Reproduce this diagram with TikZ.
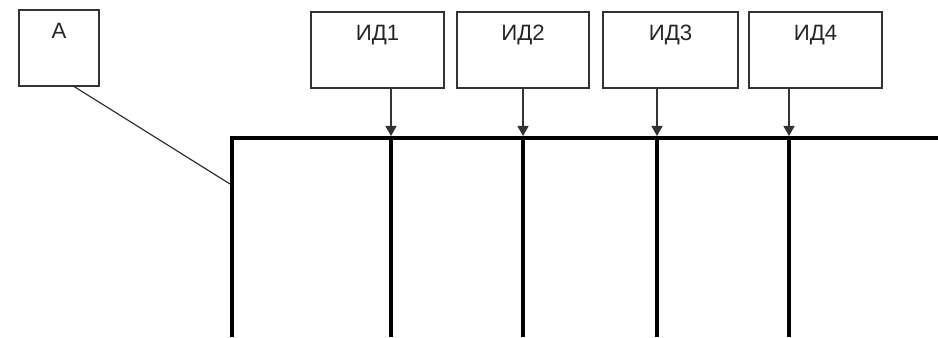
\documentclass[tikz,border=0pt]{standalone}
\usepackage{fontspec}
\setmainfont{Liberation Sans}
\usetikzlibrary{positioning,arrows.meta,calc}

\begin{document}
\begin{tikzpicture}[
  box/.style={draw=black!80, line width=0.9pt, minimum height=1.9cm, inner sep=0pt},
  boxtext/.style={inner sep=0pt, font=\fontsize{15.8}{18}\selectfont, text=black!85},
  bus/.style={line width=2.9pt, line join=miter},
  feed/.style={line width=0.9pt, draw=black!80, -{Triangle[width=0.275cm,length=0.25cm]}}]
  \useasboundingbox (0,0) rectangle (23.45,8.425);

  % node A and its link to the bus
  \node[box, minimum width=2cm] (a) at (1.475,7.225) {};
  \node[boxtext, below=0.33 of a.north] (atext) {A};
  \coordinate (ajoin) at (5.75,3.825);
  \draw[line width=0.8pt, black!85] ($(a.south)!0.375!(a.south east)$) -- (ajoin);

  % bus
  \coordinate (bl) at (5.8,4.975);
  \draw[bus] (5.8,0) -- (bl) -- (23.45,4.975);

  % ID boxes feeding the bus
  \foreach \n/\x/\w/\tx in {1/9.4375/3.325/9.775, 2/13.075/3.3/13.075, 3/16.7625/3.375/16.425, 4/20.3875/3.325/19.725} {
    \node[box, minimum width=\w cm] (id\n) at (\x,7.175) {};
    \node[boxtext, below=0.33 of id\n.north] (idtext\n) {ИД\n};
    \coordinate (t\n) at (\tx,4.975);
    \draw[bus] (t\n) -- (\tx,0);
    \draw[feed] (id\n.south -| t\n) -- ($(t\n)+(0,0.05)$);
  }
\end{tikzpicture}
\end{document}
